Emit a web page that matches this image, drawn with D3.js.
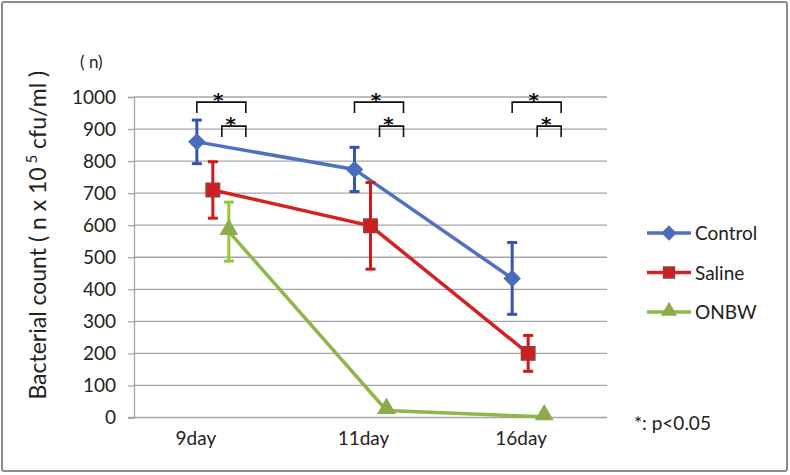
<!DOCTYPE html>
<html>
<head>
<meta charset="utf-8">
<script src="https://cdn.jsdelivr.net/npm/d3@7"></script>
<style>
  body { margin: 0; background: #fff; }
  svg { display: block; font-family: Lato, "Open Sans", sans-serif; }
</style>
</head>
<body>
<div id="chart"></div>
<script>
/* DATA */
const categories = ["9day", "11day", "16day"];
const seriesNames = ["Control", "Saline", "ONBW"];
const controlMean = [860, 774, 434];
const controlErr = [68, 69, 112];
const salineMean = [710, 598, 200];
const salineErr = [88, 135, 56];
const onbwMean = [580, 22, 2];
const onbwErr = [92, 0, 0];
const yTicks = [0, 100, 200, 300, 400, 500, 600, 700, 800, 900, 1000];
const sigLabel = "*: p<0.05";

/* CONSTANTS */
const width = 790, height = 475;
const margin = {top: 97, bottom: 57.5, left: 134, right: 183};

const series = [
  {name: "Control", mean: controlMean, err: controlErr, line: "#4f72c0", bar: "#3354b0", fill: "#4a6cbb", stroke: "#4a6cbb", shape: "diamond"},
  {name: "Saline", mean: salineMean, err: salineErr, line: "#d42222", bar: "#d01a1a", fill: "#cc1f1f", stroke: "#9b3b3b", shape: "square"},
  {name: "ONBW", mean: onbwMean, err: onbwErr, line: "#8fb64a", bar: "#93c83c", fill: "#8eab4c", stroke: "#8eab4c", shape: "triangle"}
];

const svg = d3.select("#chart").append("svg")
  .attr("width", width)
  .attr("height", height);

// outer chart border
svg.append("rect")
  .attr("x", 2).attr("y", 2)
  .attr("width", width - 5).attr("height", height - 6)
  .attr("rx", 2)
  .attr("fill", "#fff")
  .attr("stroke", "#8c8c8c")
  .attr("stroke-width", 2);

/* SCALES */
const xScale = d3.scaleBand()
  .domain(categories)
  .range([margin.left, width - margin.right]);

const offset = d3.scalePoint()
  .domain(seriesNames)
  .range([-16, 16]);

const yScale = d3.scaleLinear()
  .domain([0, 1000])
  .range([height - margin.bottom, margin.top]);

const cx = (c, s) => xScale(c) + xScale.bandwidth() / 2 + offset(s);

/* GRIDLINES */
svg.append("g")
  .selectAll("line")
  .data(yTicks.filter(d => d > 0))
  .join("line")
  .attr("x1", margin.left)
  .attr("x2", width - margin.right)
  .attr("y1", d => yScale(d))
  .attr("y2", d => yScale(d))
  .attr("stroke", "#a6a6a6")
  .attr("stroke-width", 1.3);

/* AXES */
const yAxis = d3.axisLeft(yScale).tickValues(yTicks).tickFormat(d3.format("d")).tickSize(6).tickPadding(12);
const yAxisGroup = svg.append("g")
  .attr("transform", `translate(${margin.left},0)`)
  .call(yAxis);
yAxisGroup.select(".domain").attr("stroke", "#a6a6a6").attr("stroke-width", 1.3);
yAxisGroup.selectAll(".tick line").attr("stroke", "#a6a6a6").attr("stroke-width", 1.3);
yAxisGroup.selectAll("text")
  .attr("font-size", 19)
  .attr("fill", "#222")
  .attr("font-family", "Lato, sans-serif");

const xAxis = d3.axisBottom(xScale).tickSize(0).tickPadding(14);
const xAxisGroup = svg.append("g")
  .attr("transform", `translate(0,${height - margin.bottom})`)
  .call(xAxis);
xAxisGroup.select(".domain")
  .attr("stroke", "#a6a6a6").attr("stroke-width", 1.3)
  .attr("d", `M${margin.left - 6},0H${width - margin.right}`);
xAxisGroup.selectAll("text")
  .attr("font-size", 19)
  .attr("fill", "#222")
  .attr("font-family", "Lato, sans-serif")
  .attr("dx", (d, i) => i === 0 ? -17 : -7);

// axis title
const title = svg.append("text")
  .attr("transform", `translate(46,${(yScale(0) + yScale(1000)) / 2 - 22}) rotate(-90)`)
  .attr("text-anchor", "middle")
  .attr("font-size", 23)
  .attr("fill", "#222");
title.append("tspan").text("Bacterial count ( n x 10");
title.append("tspan").attr("dy", -9).attr("font-size", 15).text(" 5");
title.append("tspan").attr("dy", 9).text(" cfu/ml )");

svg.append("text")
  .attr("x", 80).attr("y", 68)
  .attr("font-size", 17)
  .attr("fill", "#222")
  .text("( n)");

/* LINES */
const lineGen = d3.line()
  .x(d => d.x)
  .y(d => yScale(d.v));

series.forEach(s => {
  const pts = categories.map((c, i) => ({x: cx(c, s.name), v: s.mean[i], e: s.err[i]}));

  svg.append("path")
    .datum(pts)
    .attr("fill", "none")
    .attr("stroke", s.line)
    .attr("stroke-width", 3.5)
    .attr("d", lineGen);

  // error bars
  const eb = svg.append("g").selectAll("g")
    .data(pts.filter(d => d.e > 0))
    .join("g");
  eb.append("line")
    .attr("x1", d => d.x).attr("x2", d => d.x)
    .attr("y1", d => yScale(d.v + d.e))
    .attr("y2", d => yScale(d.v - d.e))
    .attr("stroke", s.bar).attr("stroke-width", 3);
  [1, -1].forEach(sign => {
    eb.append("line")
      .attr("x1", d => d.x - 5).attr("x2", d => d.x + 5)
      .attr("y1", d => yScale(d.v + sign * d.e))
      .attr("y2", d => yScale(d.v + sign * d.e))
      .attr("stroke", s.bar).attr("stroke-width", 3);
  });

  // markers
  const sym = s.shape === "diamond" ? d3.symbolDiamond2
    : s.shape === "square" ? d3.symbolSquare2 : d3.symbolTriangle2;
  const size = s.shape === "diamond" ? 150 : s.shape === "square" ? 230 : 190;
  svg.append("g").selectAll("path")
    .data(pts)
    .join("path")
    .attr("transform", d => `translate(${d.x},${yScale(d.v) + (s.shape === "triangle" ? -2 : 0)})`)
    .attr("d", d3.symbol(sym, size))
    .attr("fill", s.fill)
    .attr("stroke", s.stroke)
    .attr("stroke-width", 1.5);
});

/* SIGNIFICANCE BRACKETS */
const brackets = svg.append("g");
categories.forEach(c => {
  const mid = xScale(c) + xScale.bandwidth() / 2;
  const right = mid + 33;
  [[mid - 16, 984, 950], [mid + 9, 909, 875]].forEach(([left, top, bottom]) => {
    brackets.append("path")
      .attr("d", `M${left},${yScale(bottom)}V${yScale(top)}H${right}V${yScale(bottom)}`)
      .attr("fill", "none")
      .attr("stroke", "#111")
      .attr("stroke-width", 1.6);
    brackets.append("text")
      .attr("x", (left + right) / 2 - 3)
      .attr("y", yScale(top) + 5)
      .attr("text-anchor", "middle")
      .attr("font-family", "DejaVu Sans, sans-serif")
      .attr("font-size", 20)
      .attr("font-weight", "bold")
      .attr("fill", "#111")
      .text("*");
  });
});

/* LEGEND */
const legend = svg.append("g").attr("transform", "translate(647,233)");
series.forEach((s, i) => {
  const g = legend.append("g").attr("transform", `translate(0,${i * 39.5})`);
  g.append("line")
    .attr("x1", 0).attr("x2", 44)
    .attr("stroke", s.line).attr("stroke-width", 3.5);
  const sym = s.shape === "diamond" ? d3.symbolDiamond2
    : s.shape === "square" ? d3.symbolSquare2 : d3.symbolTriangle2;
  const size = s.shape === "diamond" ? 110 : s.shape === "square" ? 150 : 130;
  g.append("path")
    .attr("transform", `translate(22,${s.shape === "triangle" ? -1 : 0})`)
    .attr("d", d3.symbol(sym, size))
    .attr("fill", s.fill).attr("stroke", s.stroke).attr("stroke-width", 1.5);
  g.append("text")
    .attr("x", 48).attr("y", 7)
    .attr("font-size", 19)
    .attr("fill", "#222")
    .text(s.name);
});

svg.append("text")
  .attr("x", 634).attr("y", 430)
  .attr("font-size", 19)
  .attr("fill", "#222")
  .text(sigLabel);
</script>
</body>
</html>
